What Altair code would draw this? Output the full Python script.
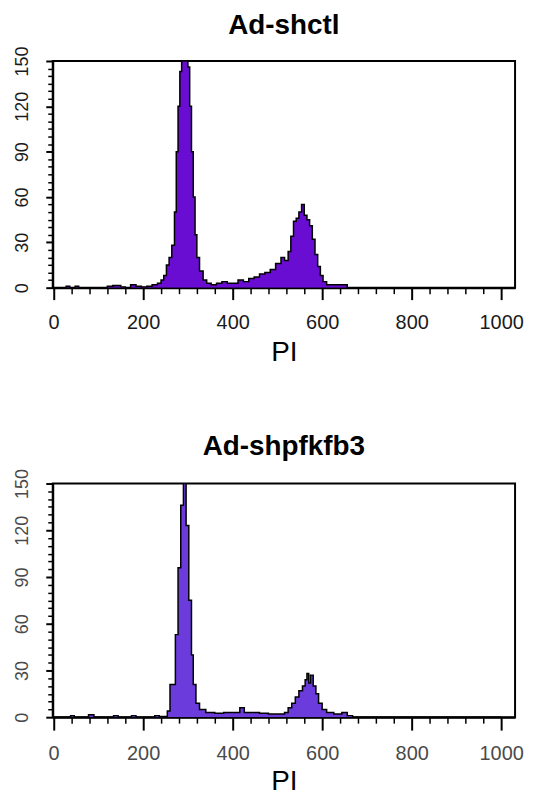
import altair as alt
import pandas as pd

# ---- data (PI channel histogram, step-after bins) ----
top_x = [0, 28, 36, 48, 56, 120, 132, 150, 160, 172, 184, 196, 208, 220, 232, 240, 246,
         252, 258, 264, 270, 274, 278, 282, 286, 300, 304, 308, 312, 316, 320, 326, 334,
         342, 352, 364, 376, 388, 400, 412, 424, 436, 448, 460, 472, 484, 496, 508, 516,
         524, 530, 536, 542, 548, 554, 560, 566, 572, 578, 584, 590, 596, 602, 610, 630,
         656, 1000]
top_y = [0, 1, 0, 1, 0, 1, 1.5, 0.5, 0, 2, 1, 0.5, 1, 2, 3, 5, 8,
         15, 20, 28, 50, 90, 120, 143, 150, 146, 120, 90, 60, 35, 20, 11, 5,
         3, 2, 3, 4, 3, 3, 5, 4, 6, 7, 9, 10, 12, 16, 20, 18,
         24, 34, 44, 46, 50, 55, 48, 45, 41, 32, 22, 14, 8, 4, 2, 2,
         0, 0]

bot_x = [0, 38, 46, 78, 90, 134, 144, 174, 184, 226, 236, 254, 260, 272, 278, 284,
         290, 296, 302, 308, 312, 318, 326, 340, 360, 380, 416, 426, 440, 460, 480,
         500, 516, 524, 532, 540, 548, 556, 562, 566, 570, 574, 580, 586, 592, 600,
         610, 626, 644, 656, 668, 1000]
bot_y = [0, 1, 0, 1.5, 0, 1, 0, 1, 0, 1, 0.5, 4, 21, 53, 96, 136,
         150, 123, 75, 40, 21, 9, 5, 3, 2.5, 3, 6, 3, 3, 2.5, 2,
         2, 3, 6, 9, 13, 17, 20, 24, 28, 22, 27, 20, 15, 9, 5,
         3, 2, 3, 1, 0, 0]

x_major = [0, 200, 400, 600, 800, 1000]
x_minor = [40, 80, 120, 160, 240, 280, 320, 360, 440, 480, 520, 560,
           640, 680, 720, 760, 840, 880, 920, 960]
y_major = [0, 30, 60, 90, 120, 150]
y_minor = [5, 10, 15, 20, 25, 35, 40, 45, 50, 55, 65, 70, 75, 80, 85,
           95, 100, 105, 110, 115, 125, 130, 135, 140, 145]

FONT = "Liberation Sans"


def panel(xs, ys, title, fill, label_color, h, tick_size, label_pad, title_pad, title_offset):
    df = pd.DataFrame({"PI": xs, "count": ys})
    xscale = alt.Scale(domain=[-2, 1031], nice=False, zero=False)
    yscale = alt.Scale(domain=[0, 150], nice=False)
    base = alt.Chart(df)
    area = base.mark_area(
        interpolate="step-after", color=fill, opacity=1, clip=True,
        line={"color": "black", "strokeWidth": 1.5},
    ).encode(
        x=alt.X("PI:Q", scale=xscale, axis=alt.Axis(
            orient="bottom", values=x_major, format="d", tickSize=tick_size, tickWidth=2,
            tickColor="black", domainColor="black", domainWidth=2,
            labelFontSize=20, labelFont=FONT, labelColor=label_color,
            labelPadding=label_pad, labelFlush=False,
            title="PI", titleFontSize=28, titleFont=FONT, titleFontWeight="normal",
            titleColor="black", titlePadding=title_pad, grid=False)),
        y=alt.Y("count:Q", scale=yscale, axis=alt.Axis(
            orient="left", values=y_major, format="d", tickSize=7, tickWidth=2,
            tickColor="black", domainColor="black", domainWidth=2,
            labelFontSize=18, labelFont=FONT, labelColor=label_color,
            labelAngle=270, labelAlign="center", labelBaseline="middle",
            labelPadding=23, labelFlush=False, title=None, grid=False,
            minExtent=44, maxExtent=44)),
    )
    minor = base.mark_point(opacity=0).encode(
        x=alt.X("PI:Q", scale=xscale, axis=alt.Axis(
            orient="bottom", values=x_minor, labels=False, tickSize=6, tickWidth=1.5,
            tickColor="black", domain=False, title=None, grid=False)),
        y=alt.Y("count:Q", scale=yscale, axis=alt.Axis(
            orient="left", values=y_minor, labels=False, tickSize=5, tickWidth=1.5,
            tickColor="black", domain=False, title=None, grid=False,
            minExtent=44, maxExtent=44)),
    )
    return alt.layer(area, minor).resolve_axis(x="independent", y="independent").properties(
        width=465, height=h,
        title=alt.TitleParams(title, fontSize=28, font=FONT, fontWeight="bold",
                              color="black", offset=title_offset, anchor="middle"),
    )


top = panel(top_x, top_y, "Ad-shctl", "#6a0dd2", "#1a1a1a", 228, 12, 13, 6, 6)
bottom = panel(bot_x, bot_y, "Ad-shpfkfb3", "#6b3bdc", "#4a4a4a", 235, 13, 14, 4, 8)

chart = alt.vconcat(top, bottom, spacing=64).properties(
    padding=0
).configure(background="white").configure_view(stroke="black", strokeWidth=2)

chart.save("out.html", embed_options={"renderer": "svg", "actions": False})
